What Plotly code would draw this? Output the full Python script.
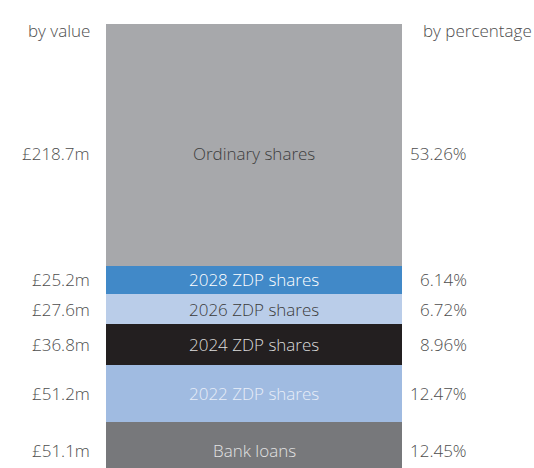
import plotly.graph_objects as go

# Capital structure, bottom to top of the stacked bar
segments = ["Bank loans", "2022 ZDP shares", "2024 ZDP shares",
            "2026 ZDP shares", "2028 ZDP shares", "Ordinary shares"]
values_m = [51.1, 51.2, 36.8, 27.6, 25.2, 218.7]
value_labels = ["£51.1m", "£51.2m", "£36.8m", "£27.6m", "£25.2m", "£218.7m"]
pct_labels = ["12.45%", "12.47%", "8.96%", "6.72%", "6.14%", "53.26%"]

colors = ["#77787b", "#a0bbe1", "#231f20", "#bacde9", "#4189c8", "#a7a8ab"]
text_colors = ["#e2e2e2", "#e8eef8", "#dcdcdc", "#3a3a3a", "#ffffff", "#3d3d3d"]

FONT = "Open Sans, Noto Sans, sans-serif"
LABEL_COLOR = "#4d4d4d"
SIZE = 17

fig = go.Figure()

for name, val, col in zip(segments, values_m, colors):
    fig.add_trace(go.Bar(
        x=[0], y=[val], width=1, name=name,
        marker=dict(color=col, line=dict(width=0)),
        hoverinfo="skip",
    ))

total = sum(values_m)
annotations = []
base = 0
for name, val, vl, pl, tcol in zip(segments, values_m, value_labels, pct_labels, text_colors):
    mid = base + val / 2
    base += val
    # the big top segment has its labels sitting a little below centre
    shift = -8 if name == "Ordinary shares" else 0
    for x, txt, anchor, color in [(-0.047, vl, "right", LABEL_COLOR),
                                  (0.5, name, "center", tcol),
                                  (1.227, pl, "right", LABEL_COLOR)]:
        annotations.append(dict(xref="paper", yref="y", x=x, y=mid, text=txt,
                                xanchor=anchor, yanchor="middle", yshift=shift,
                                showarrow=False,
                                font=dict(family=FONT, size=SIZE, color=color, weight=300)))

# column headings
annotations.append(dict(xref="paper", yref="paper", x=-0.047, y=1.0, text="by value",
                        xanchor="right", yanchor="middle", yshift=-6, showarrow=False,
                        font=dict(family=FONT, size=SIZE, color=LABEL_COLOR, weight=300)))
annotations.append(dict(xref="paper", yref="paper", x=1.064, y=1.0, text="by percentage",
                        xanchor="left", yanchor="middle", yshift=-6, showarrow=False,
                        font=dict(family=FONT, size=SIZE, color=LABEL_COLOR, weight=300)))

fig.update_layout(
    width=534, height=468,
    barmode="stack", bargap=0,
    showlegend=False,
    plot_bgcolor="white", paper_bgcolor="white",
    margin=dict(l=106, r=132, t=24, b=0),
    xaxis=dict(visible=False, range=[-0.5, 0.5]),
    yaxis=dict(visible=False, range=[9.35, total]),
    annotations=annotations,
)

# drop the default page margin so the figure fills the window exactly
fig.write_html("out.html", config={"displayModeBar": False},
               post_script="document.body.style.margin='0';")
